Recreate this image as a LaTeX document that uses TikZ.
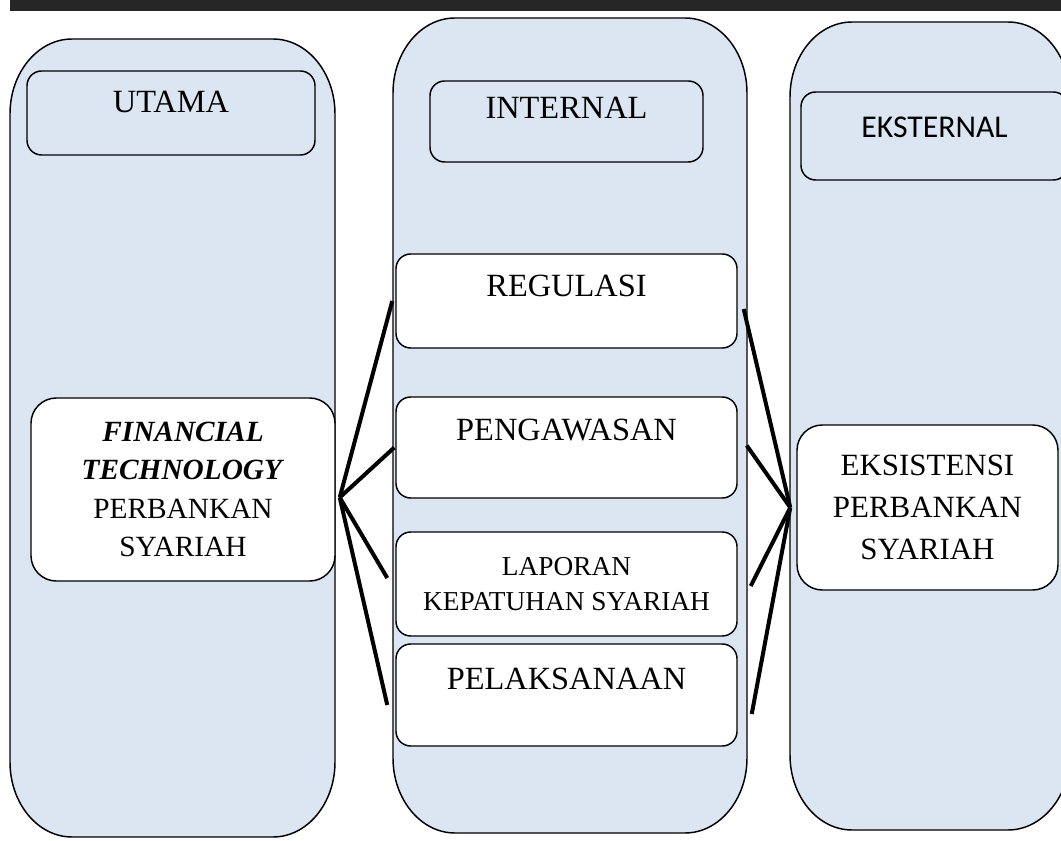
\documentclass[tikz,border=0pt]{standalone}
\usepackage{fontspec}
\setmainfont{Liberation Serif}
\newfontfamily\calibri{Carlito}
\newdimen\px
\px=0.75pt
\definecolor{pillarblue}{HTML}{DCE6F2}
\definecolor{topbar}{HTML}{262626}

% column with oval corners: left, top, right, bottom
\newcommand{\pillar}[4]{%
  \draw[pillarline] (#1,#2+75) .. controls (#1,#2+33.6) and (#1+27.8,#2) .. (#1+62,#2)
    -- (#3-62,#2) .. controls (#3-27.8,#2) and (#3,#2+33.6) .. (#3,#2+75)
    -- (#3,#4-75) .. controls (#3,#4-33.6) and (#3-27.8,#4) .. (#3-62,#4)
    -- (#1+62,#4) .. controls (#1+27.8,#4) and (#1,#4-33.6) .. (#1,#4-75) -- cycle;}

\tikzset{
  pillarline/.style={draw=black, line width=1.1pt, fill=pillarblue},
  topbox/.style={draw=black, line width=1.1pt, rounded corners=11pt,
    text height=15.5pt, inner sep=0pt, font=\fontsize{24.3}{28}\selectfont},
  itembox/.style={draw=black, fill=white, line width=1.1pt, rounded corners=11pt,
    minimum width=341\px, inner sep=0pt, font=\fontsize{24.3}{28}\selectfont},
  mainbox/.style={draw=black, fill=white, line width=1.1pt, rounded corners=19pt,
    align=center, inner sep=0pt},
  link/.style={line width=3pt, black}
}

\begin{document}
\begin{tikzpicture}[x=0.75pt, y=-0.75pt]
    \useasboundingbox (0,0) rectangle (1061,841);
    \clip (0,0) rectangle (1061,841);
    \fill[white] (0,0) rectangle (1061,841);

    % Dark strip along the top
    \fill[topbar] (10,0) rectangle (1061,11);

    % The three columns
    \pillar{10}{39}{335}{837}
    \pillar{393}{18}{747}{833}
    \pillar{790}{22}{1070}{830}

    % Column headings
    \node[topbox, text depth=15.5pt, minimum width=288\px, minimum height=84\px] (utama) at (171,113) {UTAMA};
    \node[topbox, text depth=20pt, minimum width=273\px, minimum height=81\px] (internal) at (566.5,121.5) {INTERNAL};
    \node[topbox, text height=15.75pt, text depth=12.75pt, minimum width=267\px, minimum height=88\px,
      font=\calibri\fontsize{23.8}{27}\selectfont] (eksternal) at (934.5,136) {EKSTERNAL};

    % Left and right boxes
    \node[mainbox, minimum width=304\px, minimum height=183\px, font=\fontsize{22}{28.7}\selectfont]
      (fin) at (183,489.5) {\textbf{\textit{FINANCIAL}}\\\textbf{\textit{TECHNOLOGY}}\\PERBANKAN\\SYARIAH};
    \node[mainbox, minimum width=261\px, minimum height=165\px, font=\fontsize{23.2}{31.5}\selectfont]
      (eks) at (927.5,507.5) {EKSISTENSI\\PERBANKAN\\SYARIAH};

    % Middle boxes
    \node[itembox, text height=15.5pt, text depth=21.5pt, minimum height=94\px] (reg) at (566.5,301) {REGULASI};
    \node[itembox, text height=15.5pt, text depth=26.5pt, minimum height=101\px] (peng) at (566.5,447.5) {PENGAWASAN};
    \node[itembox, align=center, minimum height=104\px, font=\fontsize{20.5}{26.2}\selectfont]
      (lap) at (566.5,584) {LAPORAN\\KEPATUHAN SYARIAH};
    \node[itembox, text height=15.5pt, text depth=24.5pt, minimum height=102\px] (pel) at (566.5,695) {PELAKSANAAN};

    % Fan of lines on both sides
    \coordinate (hubL) at ([shift={(4,8)}]fin.east);
    \coordinate (hubR) at ([shift={(-6,0)}]eks.west);
    \draw[link] (hubL) -- ([shift={(-3,0)}]reg.west);
    \draw[link] (hubL) -- ([shift={(-1,0)}]peng.west);
    \draw[link] (hubL) -- ([shift={(-8,-6)}]lap.west);
    \draw[link] (hubL) -- ([shift={(-8,10)}]pel.west);
    \draw[link] ([shift={(6,8)}]reg.east) -- (hubR);
    \draw[link] ([shift={(9,-2)}]peng.east) -- (hubR);
    \draw[link] ([shift={(13,2)}]lap.east) -- (hubR);
    \draw[link] ([shift={(14,19)}]pel.east) -- (hubR);
\end{tikzpicture}
\end{document}
